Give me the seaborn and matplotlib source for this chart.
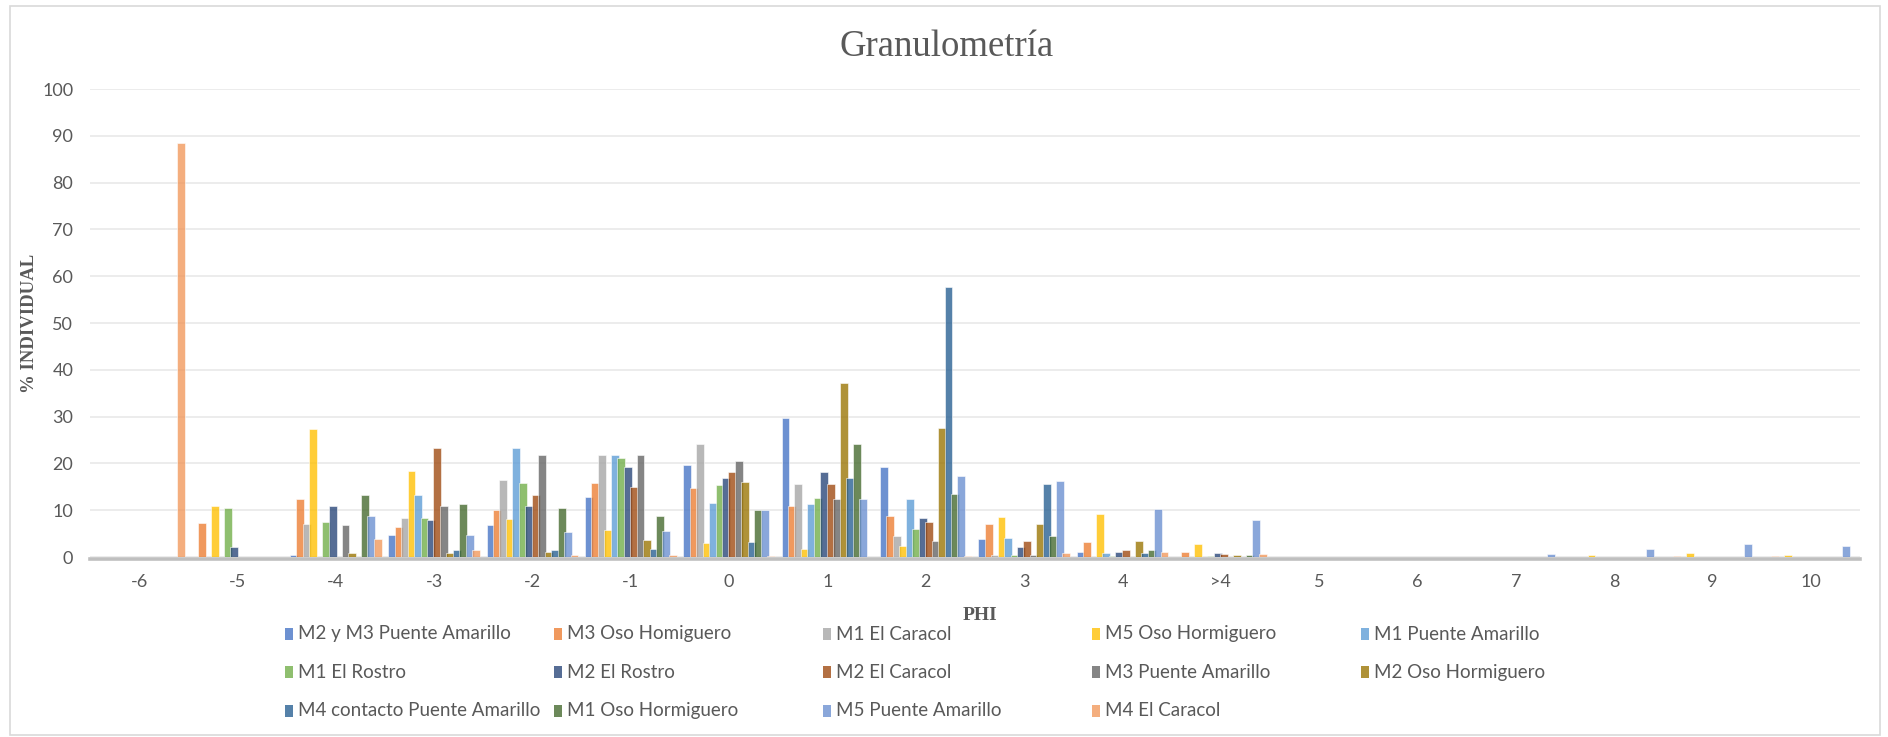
import matplotlib
matplotlib.use("Agg")
import matplotlib.pyplot as plt
from matplotlib.patches import Rectangle
import pandas as pd
import seaborn as sns

# PHI size classes (category axis)
phi = ['-6', '-5', '-4', '-3', '-2', '-1', '0', '1', '2', '3', '4', '>4',
       '5', '6', '7', '8', '9', '10']

# Individual weight percentage retained per sieve, one list per sample
m2_m3_puente_amarillo = [0, 0, 0.5, 4.7, 6.8, 12.9, 19.7, 29.8, 19.2, 3.9, 1.1, 0, 0, 0, 0, 0, 0, 0]
m3_oso_homiguero = [0, 7.3, 12.5, 6.5, 10.1, 15.9, 14.8, 10.9, 8.8, 7.0, 3.3, 1.1, 0, 0, 0, 0, 0.3, 0.3]
m1_el_caracol = [0, 0, 7.0, 8.4, 16.4, 21.8, 24.2, 15.7, 4.5, 0.4, 0, 0, 0, 0, 0, 0, 0, 0]
m5_oso_hormiguero = [0, 11.0, 27.4, 18.3, 8.2, 5.8, 2.9, 1.7, 2.4, 8.6, 9.2, 2.7, 0, 0, 0, 0.5, 0.8, 0.5]
m1_puente_amarillo = [0, 0, 0, 13.3, 23.2, 21.8, 11.6, 11.4, 12.3, 4.0, 0.8, 0, 0, 0, 0, 0, 0, 0]
m1_el_rostro = [0, 10.5, 7.5, 8.4, 15.9, 21.1, 15.4, 12.6, 6.0, 0.4, 0.2, 0.2, 0, 0, 0, 0, 0, 0]
m2_el_rostro = [0, 2.1, 10.8, 7.8, 10.8, 19.2, 16.8, 18.2, 8.3, 2.1, 1.1, 0.9, 0, 0, 0, 0, 0, 0]
m2_el_caracol = [0, 0, 0, 23.2, 13.3, 15.0, 18.2, 15.6, 7.4, 3.4, 1.4, 0.7, 0, 0, 0, 0, 0, 0]
m3_puente_amarillo = [0, 0, 6.8, 11.0, 21.8, 21.8, 20.6, 12.5, 3.4, 0.4, 0, 0, 0, 0, 0, 0, 0, 0]
m2_oso_hormiguero = [0, 0, 0.9, 0.9, 1.1, 3.6, 16.1, 37.2, 27.6, 7.1, 3.4, 0.4, 0, 0, 0, 0, 0, 0]
m4_contacto_puente_amarillo = [0, 0, 0, 1.4, 1.4, 1.8, 3.2, 16.8, 57.6, 15.6, 0.9, 0, 0, 0, 0, 0, 0, 0]
m1_oso_hormiguero = [0, 0, 13.3, 11.4, 10.5, 8.7, 10.0, 24.1, 13.5, 4.5, 1.6, 0.4, 0, 0, 0, 0, 0, 0]
m5_puente_amarillo = [0, 0, 8.7, 4.7, 5.4, 5.5, 10.0, 12.3, 17.3, 16.3, 10.2, 7.9, 0, 0, 0.6, 1.7, 2.7, 2.3]
m4_el_caracol = [88.5, 0, 3.9, 1.6, 0.4, 0.4, 0.3, 0, 0.3, 0.9, 1.1, 0.7, 0, 0, 0, 0, 0, 0]

series_names = [
    'M2 y M3 Puente Amarillo', 'M3 Oso Homiguero', 'M1 El Caracol',
    'M5 Oso Hormiguero', 'M1 Puente Amarillo', 'M1 El Rostro', 'M2 El Rostro',
    'M2 El Caracol', 'M3 Puente Amarillo', 'M2 Oso Hormiguero',
    'M4 contacto Puente Amarillo', 'M1 Oso Hormiguero', 'M5 Puente Amarillo',
    'M4 El Caracol',
]
series_values = [
    m2_m3_puente_amarillo, m3_oso_homiguero, m1_el_caracol, m5_oso_hormiguero,
    m1_puente_amarillo, m1_el_rostro, m2_el_rostro, m2_el_caracol,
    m3_puente_amarillo, m2_oso_hormiguero, m4_contacto_puente_amarillo,
    m1_oso_hormiguero, m5_puente_amarillo, m4_el_caracol,
]
colors = ['#4472C4', '#ED7D31', '#A5A5A5', '#FFC000', '#5B9BD5', '#70AD47',
          '#264478', '#9E480E', '#636363', '#997300', '#255E91', '#43682B',
          '#698ED0', '#F1975A']

rows = []
for name, vals in zip(series_names, series_values):
    for p, v in zip(phi, vals):
        rows.append({'PHI': p, 'pct': v, 'muestra': name})
df = pd.DataFrame(rows)

sns.set_style('white')
plt.rcParams['font.family'] = ['Lato', 'DejaVu Sans']

W, H = 1888, 737
fig = plt.figure(figsize=(W / 100, H / 100), dpi=100)
ax = fig.add_axes([90 / W, 1 - 557 / H, (1860 - 90) / W, (557 - 89) / H])

sns.barplot(data=df, x='PHI', y='pct', hue='muestra', order=phi,
            hue_order=series_names, palette=colors, width=0.92,
            errorbar=None, saturation=1, alpha=0.78, edgecolor='white',
            linewidth=0.5, legend=False, ax=ax)

# slightly widen the bars so neighbours touch/overlap, keeping their centres
for bar in ax.patches:
    w = bar.get_width()
    bar.set_x(bar.get_x() - w * 0.11)
    bar.set_width(w * 1.22)

ax.set_ylim(0, 100)
ax.set_yticks(range(0, 101, 10))
ax.set_xlim(-0.5, len(phi) - 0.5)
ax.yaxis.grid(True, color='#EBEBEB', linewidth=1.3)
ax.set_axisbelow(True)
for side in ('top', 'right', 'left'):
    ax.spines[side].set_visible(False)
ax.spines['bottom'].set_color('#BFBFBF')
ax.spines['bottom'].set_linewidth(2.6)
ax.spines['bottom'].set_position(('outward', 1.3))
ax.tick_params(axis='both', length=0, labelsize=13, colors='#595959')
ax.tick_params(axis='x', pad=11)
ax.tick_params(axis='y', pad=12)

ax.set_xlabel('')
ax.set_ylabel('')
fig.text(29 / W, 1 - 323 / H, '% INDIVIDUAL', rotation=90, ha='center',
         va='center', fontsize=13.5, fontweight='bold',
         family='Liberation Serif', color='#595959')
fig.text(980 / W, 1 - 615 / H, 'PHI', ha='center', va='center', fontsize=14,
         fontweight='bold', family='Liberation Serif', color='#595959')
fig.text(947 / W, 1 - 47 / H, 'Granulometría', ha='center', va='center',
         fontsize=26.5, family='Liberation Serif', color='#595959')

# legend: 5 equal-width columns, row-major order
for i, (name, col) in enumerate(zip(series_names, colors)):
    r, c = divmod(i, 5)
    x0 = 285 + 269 * c
    y0 = 634 + 38.3 * r
    fig.patches.append(Rectangle((x0 / W, 1 - (y0 + 6) / H), 8 / W, 12 / H,
                                 transform=fig.transFigure, facecolor=col,
                                 alpha=0.78, edgecolor='none'))
    fig.text((x0 + 13) / W, 1 - y0 / H, name, ha='left', va='center',
             fontsize=13.5, color='#595959')

# chart-area border
fig.patches.append(Rectangle((10 / W, 1 - 735 / H), 1870 / W, 729 / H,
                             transform=fig.transFigure, fill=False,
                             edgecolor='#D9D9D9', linewidth=1.2))

fig.savefig('out.png', dpi=100)
